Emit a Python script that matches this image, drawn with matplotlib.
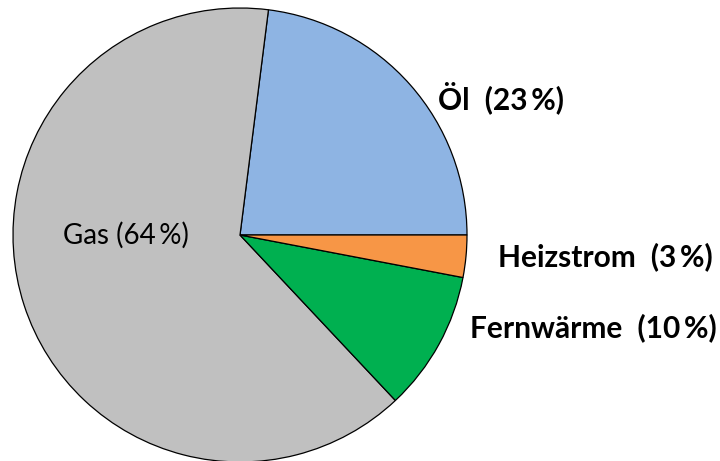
import matplotlib.pyplot as plt

labels = ['Öl', 'Gas', 'Fernwärme', 'Heizstrom']
shares = [23, 64, 10, 3]
colors = ['#8EB4E3', '#C0C0C0', '#00B050', '#F79646']
bold = [True, False, True, True]

# label anchor positions in pixels (left edge / vertical centre), layout only
label_pos = [(438, 98, 'left'), (126, 235, 'center'), (470, 328, 'left'), (498, 257, 'left')]

W, H = 720, 461
fig = plt.figure(figsize=(W / 100, H / 100), dpi=100)
ax = fig.add_axes([0, 0, 1, 1])

ax.pie(shares, colors=colors, startangle=0, counterclock=True,
       center=(240, H - 235), radius=227,
       wedgeprops=dict(edgecolor='black', linewidth=0.9), frame=True)
ax.set_xlim(0, W)
ax.set_ylim(0, H)
ax.set_aspect('equal')
ax.axis('off')

for lab, val, b, (x, y, ha) in zip(labels, shares, bold, label_pos):
    sep = '\u2002' if b else ' '
    ax.text(x, H - y, f'{lab}{sep}({val}\u2009%)', ha=ha, va='center',
            fontsize=21.5 if b else 20, fontweight='bold' if b else 'normal',
            family=['Lato', 'DejaVu Sans'])

fig.savefig('out.png', dpi=100)
